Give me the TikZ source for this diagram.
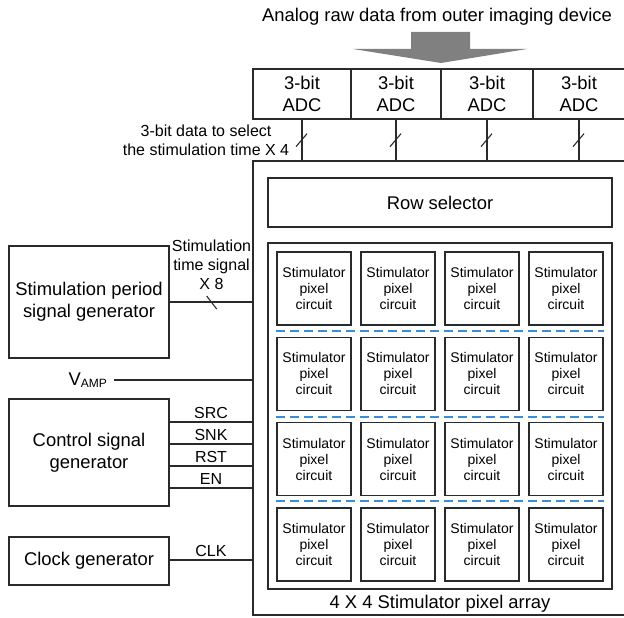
\documentclass[tikz,border=0pt]{standalone}
\usepackage{fontspec}
\setmainfont{Liberation Sans}
\definecolor{ln}{HTML}{2A2A2A}
\definecolor{dblue}{HTML}{3C8DD8}
\definecolor{arrgray}{HTML}{808080}
\tikzset{
  box/.style={draw=ln, line width=1.35pt, inner sep=0pt, align=center},
  wire/.style={draw=ln, line width=1.35pt},
  bigtxt/.style={font=\fontsize{18.4}{21.8}\selectfont},
  midtxt/.style={font=\fontsize{16}{19}\selectfont},
  smalltxt/.style={font=\fontsize{14}{16}\selectfont},
  sepline/.style={draw=dblue, line width=1.3pt, dash pattern=on 9pt off 5pt},
  busmark/.style={draw=ln, line width=1.1pt},
}
\begin{document}
\begin{tikzpicture}[x=1pt,y=-1pt]
\useasboundingbox (0,0) rectangle (624,618);
\clip (0,0) rectangle (624,618);

% title and big arrow
\node[bigtxt, anchor=base, inner sep=0pt] (title) at (437,22) {Analog raw data from outer imaging device};
\fill[arrgray] (411,32) -- (470,32) -- (470,49) -- (527,49) -- (441,63) -- (353,49) -- (411,49) -- cycle;

% ADCs
\node[box, bigtxt, minimum width=98pt, minimum height=50pt] (adc1) at (302,94) {3-bit\\ADC};
\node[box, bigtxt, minimum width=90pt, minimum height=50pt] (adc2) at (396,94) {3-bit\\ADC};
\node[box, bigtxt, minimum width=92pt, minimum height=50pt] (adc3) at (487,94) {3-bit\\ADC};
\node[box, bigtxt, minimum width=92pt, minimum height=50pt] (adc4) at (579,94) {3-bit\\ADC};

% big enclosure
\node[box, minimum width=375pt, minimum height=454pt] (bigbox) at (440.5,388) {};

% ADC buses
\foreach \a in {adc1,adc2,adc3,adc4}{
  \draw[wire] (\a.south) -- (\a.south |- bigbox.north);
  \draw[busmark] ([shift={(-6,27)}]\a.south) -- ++(11,-13);
}
\node[midtxt, align=center, anchor=north, inner sep=0pt] (adclbl) at (206,125) {3-bit data to select\\the stimulation time X 4};

% row selector and array
\node[box, bigtxt, minimum width=344pt, minimum height=49pt] (rowsel) at (440,202.5) {Row selector};
\node[box, minimum width=344pt, minimum height=346pt] (array) at (440,416) {};
\node[bigtxt, anchor=base, inner sep=0pt] (arrlbl) at (440,608) {4 X 4 Stimulator pixel array};

\foreach \r in {0,...,3}{
  \foreach \c in {0,...,3}{
    \node[box, smalltxt, minimum width=74pt, minimum height=73pt] (p\r\c) at ({314+84*\c},{288.5+85.3*\r}) {Stimulator\\pixel\\circuit};
  }
}
\foreach \r/\yy in {0/331,1/417,2/501}{
  \draw[sepline] (p\r0.south west |- 0,\yy) -- (p\r3.south east |- 0,\yy);
}

% stimulation period signal generator
\node[box, bigtxt, minimum width=160pt, minimum height=112pt] (spg) at (89,302) {Stimulation period\\signal generator};
\draw[wire] (spg.east) -- (spg.east -| bigbox.west);
\draw[busmark] ([shift={(37,-6)}]spg.east) -- ++(10,13);
\node[midtxt, align=center, anchor=north, inner sep=0pt] (stlbl) at (211.5,240) {Stimulation\\time signal\\X 8};

% VAMP
\node[bigtxt, anchor=base east, inner sep=0pt] (vamp) at (107,385) {V\raisebox{-2.5pt}{\fontsize{12}{12}\selectfont AMP}};
\coordinate (vampend) at (114,380);
\draw[wire] (vampend) -- (vampend -| bigbox.west);

% control signal generator
\node[box, bigtxt, minimum width=160pt, minimum height=107pt] (csg) at (89,452.5) {Control signal\\generator};
\foreach \yy/\t in {422/SRC,444/SNK,466/RST,488/EN}{
  \coordinate (c\t) at (csg.east |- 0,\yy);
  \draw[wire] (c\t) -- (c\t -| bigbox.west);
  \node[midtxt, anchor=base, inner sep=0pt] (l\t) at (211,{\yy-3.5}) {\t};
}

% clock generator
\node[box, bigtxt, minimum width=160pt, minimum height=48pt] (clk) at (89,561) {Clock generator};
\coordinate (cCLK) at (clk.east |- 0,560);
\draw[wire] (cCLK) -- (cCLK -| bigbox.west);
\node[midtxt, anchor=base, inner sep=0pt] (lCLK) at (211,556.5) {CLK};

\end{tikzpicture}
\end{document}
